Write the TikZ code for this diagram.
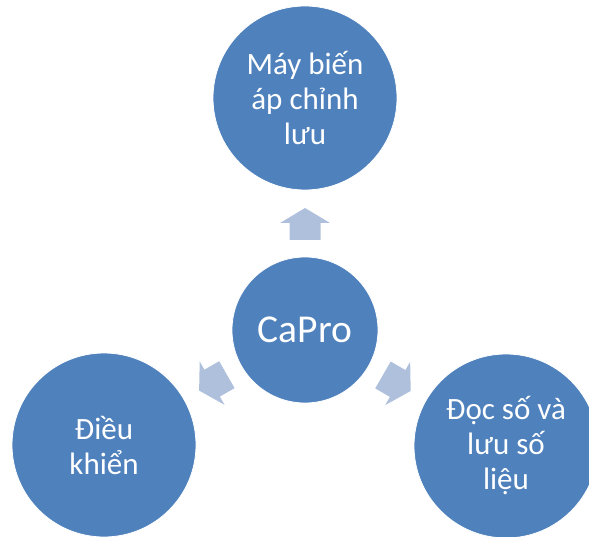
\documentclass[tikz,border=0pt]{standalone}
\usepackage{fontspec}
\setmainfont{Carlito}
\usetikzlibrary{calc}
\definecolor{circblue}{HTML}{4F81BD}
\definecolor{arrowblue}{HTML}{AFC0DD}
\tikzset{
  bigcirc/.style={circle, fill=circblue, draw=white, line width=0.8pt, minimum size=184pt, inner sep=0pt,
    text=white, align=center, font=\fontsize{31}{35}\selectfont},
  hubcirc/.style={circle, fill=circblue, draw=white, line width=0.8pt, minimum size=146pt, inner sep=0pt,
    text=white, font=\fontsize{39.5}{44}\selectfont},
  blockarrow/.pic={
    \fill[arrowblue] (-16,-15.5) -- (1,-15.5) -- (1,-25) -- (16,0) -- (1,25) -- (1,15.5) -- (-16,15.5) -- cycle;
  }
}
\begin{document}
\begin{tikzpicture}[x=1pt,y=-1pt]
\useasboundingbox (0,0) rectangle (589,537);
\node[hubcirc] (hub) at (305,330) {CaPro};
\node[bigcirc] (top) at (305,98) {Máy biến\\áp chỉnh\\lưu};
\node[bigcirc] (left) at (104,445) {Điều\\khiển};
\node[bigcirc] (right) at (506,446) {Đọc số và\\lưu số\\liệu};
\pic[rotate=90] at ($(hub.center)!106pt!(top.center)$) {blockarrow};
\pic[rotate=209.8] at ($(hub.center)!106pt!(left.center)$) {blockarrow};
\pic[rotate=-30] at ($(hub.center)!106pt!(right.center)$) {blockarrow};
\end{tikzpicture}
\end{document}
